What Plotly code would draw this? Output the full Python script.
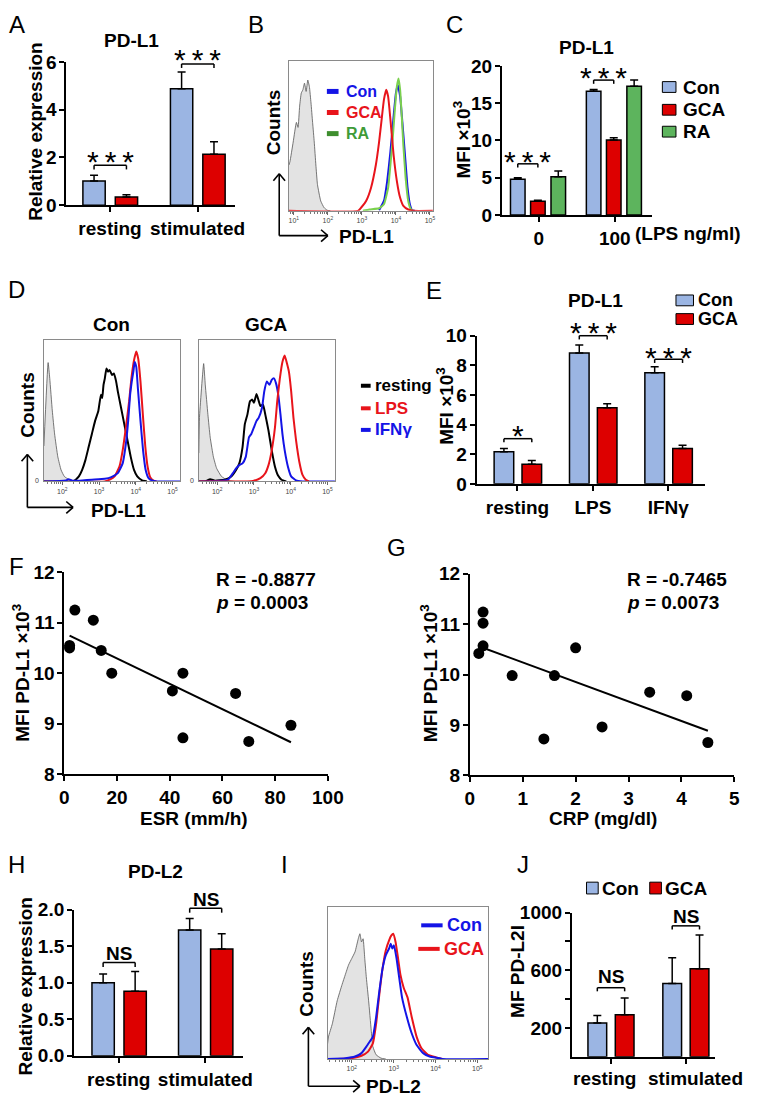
import numpy as np
import plotly.graph_objects as go

# ======================= DATA =======================
# A: PD-L1 relative expression (qPCR)
A_cats = ["resting", "stimulated"]
A_con = [1.02, 4.88]
A_con_err = [0.24, 0.70]
A_gca = [0.34, 2.14]
A_gca_err = [0.10, 0.52]
A_sig = ["***", "***"]

# B: PD-L1 flow histograms (x = log10 fluorescence, y = % of max count)
B_iso_x = [0.857, 0.886, 0.981, 1.076, 1.124, 1.171, 1.219, 1.267, 1.314, 1.362, 1.41, 1.457, 1.505, 1.552, 1.6, 1.648, 1.695, 1.79, 1.886, 1.981, 2.076]
B_iso_y = [30.6, 32.8, 45.9, 59, 55.7, 69.9, 78.6, 80.8, 85.2, 79.7, 87.3, 83, 72, 59, 45.9, 30.6, 17.5, 6.6, 2.2, 0.4, 0]
B_con_x = [3.505, 3.648, 3.743, 3.838, 3.933, 4.0, 4.057, 4.124, 4.19, 4.267, 4.343, 4.41, 4.476, 4.552]
B_con_y = [0.4, 6.6, 19.7, 39.3, 63.3, 78.6, 84, 76.4, 59, 37.1, 15.3, 4.4, 0.4, 0]
B_ra_x = [3.029, 3.219, 3.505, 3.648, 3.771, 3.838, 3.905, 3.962, 4.029, 4.076, 4.124, 4.171, 4.219, 4.286, 4.362, 4.438, 4.505]
B_ra_y = [0, 0.9, 1.7, 4.4, 15.3, 30.6, 48, 65.5, 83, 88.4, 80.8, 63.3, 43.7, 21.8, 6.6, 1.1, 0]
B_gca_x = [0.857, 2.886, 2.981, 3.124, 3.267, 3.41, 3.505, 3.581, 3.648, 3.714, 3.771, 3.838, 3.933, 4.029, 4.124, 4.219, 4.362, 4.505, 5.086]
B_gca_y = [0, 0, 2.2, 6.6, 15.3, 30.6, 45.9, 61.1, 74.2, 80.8, 76.4, 61.1, 37.1, 19.7, 8.7, 3.3, 0.9, 0, 0]
B_names = ["Con", "GCA", "RA"]

# C: PD-L1 MFI (x10^3) vs LPS dose
C_cats = ["0", "100"]
C_con = [4.81, 16.59]
C_con_err = [0.18, 0.26]
C_gca = [1.84, 10.07]
C_gca_err = [0.13, 0.30]
C_ra = [5.12, 17.29]
C_ra_err = [0.78, 0.83]
C_sig = ["***", "***"]

# D: PD-L1 flow histograms, Con and GCA
D_con_iso_x = [1.5, 1.615, 1.659, 1.729, 1.791, 1.879, 1.967, 2.056, 2.188, 2.364]
D_con_iso_y = [25, 83.8, 72.7, 49.7, 33.5, 17.3, 8.1, 3.5, 1.2, 0.2]
D_con_rest_x = [1.5, 2.276, 2.364, 2.452, 2.541, 2.629, 2.717, 2.805, 2.893, 2.981, 3.052, 3.087, 3.122, 3.158, 3.202, 3.246, 3.29, 3.352, 3.405, 3.466, 3.511, 3.599, 3.687, 3.775, 3.863, 3.952, 4.04, 4.172, 4.304]
D_con_rest_y = [0, 0, 1.2, 3.5, 8.1, 15, 24.2, 33.5, 42.7, 49.7, 61.2, 58.9, 68.1, 72.7, 79.7, 77.4, 78.5, 75.1, 76.2, 70.4, 63.5, 52, 40.4, 28.9, 17.3, 8.1, 3.5, 0.7, 0]
D_con_lps_x = [1.5, 3.158, 3.29, 3.423, 3.555, 3.643, 3.731, 3.819, 3.881, 3.952, 4.013, 4.066, 4.128, 4.198, 4.26, 4.322, 4.392, 4.481, 4.569]
D_con_lps_y = [0, 0, 1.2, 3.5, 10.4, 21.9, 38.1, 56.6, 72.7, 85.5, 91.7, 86.6, 70.4, 45, 24.2, 10.4, 3, 0.5, 0]
D_con_ifn_x = [1.5, 2.1, 2.17, 2.276, 2.541, 2.805, 3.158, 3.334, 3.511, 3.643, 3.731, 3.793, 3.846, 3.89, 3.934, 3.969, 4.013, 4.057, 4.128, 4.198, 4.269, 4.348, 4.437, 4.569, 5.204]
D_con_ifn_y = [0, 0.7, 1.6, 0.5, 0.7, 1.2, 1.8, 3, 5.8, 12.7, 26.6, 42.7, 61.2, 70.4, 77.4, 84.3, 80.8, 65.8, 42.7, 21.9, 8.1, 2.3, 0.7, 0, 0]
D_gca_iso_x = [1.5, 1.518, 1.632, 1.676, 1.747, 1.809, 1.897, 1.985, 2.117, 2.294, 2.47]
D_gca_iso_y = [20, 45, 83.1, 68.1, 47.3, 31.2, 17.3, 9.2, 3.5, 0.7, 0]
D_gca_rest_x = [1.5, 1.676, 1.809, 1.941, 2.206, 2.382, 2.514, 2.602, 2.69, 2.752, 2.823, 2.893, 2.955, 2.999, 3.07, 3.131, 3.176, 3.246, 3.308, 3.396, 3.484, 3.572, 3.661, 3.749, 3.881]
D_gca_rest_y = [0, 0, 1.6, 0.5, 1.2, 3.5, 8.1, 12.7, 24.2, 40.4, 47.3, 56.6, 57.7, 55.4, 61.7, 56.6, 53.1, 54.3, 47.3, 35.8, 21.9, 10.4, 3.9, 1.2, 0]
D_gca_ifn_x = [1.5, 2.117, 2.294, 2.426, 2.514, 2.602, 2.69, 2.778, 2.866, 2.929, 2.999, 3.07, 3.131, 3.22, 3.281, 3.352, 3.422, 3.484, 3.546, 3.599, 3.661, 3.722, 3.775, 3.837, 3.925, 4.013, 4.146, 4.322, 5.204]
D_gca_ifn_y = [0, 0.5, 1.2, 5.8, 9.2, 11.5, 12.7, 17.3, 31.2, 33.5, 38.1, 42.7, 45, 52, 63.5, 70.4, 68.1, 71.6, 72.7, 69.3, 61.2, 47.3, 33.5, 21.9, 10.4, 3.5, 0.7, 0, 0]
D_gca_lps_x = [1.5, 2.823, 2.999, 3.176, 3.308, 3.396, 3.484, 3.572, 3.634, 3.705, 3.775, 3.837, 3.899, 3.951, 4.013, 4.075, 4.146, 4.234, 4.322, 4.41, 4.498]
D_gca_lps_y = [0, 0, 0.5, 2.3, 5.8, 11.5, 21.9, 38.1, 56.6, 72.7, 84.3, 88.9, 83.1, 77.4, 63.5, 45, 28.9, 13.9, 4.6, 1.2, 0]
D_names = ["resting", "LPS", "IFNγ"]

# E: PD-L1 MFI (x10^3)
E_cats = ["resting", "LPS", "IFNγ"]
E_con = [2.16, 8.83, 7.50]
E_con_err = [0.22, 0.55, 0.40]
E_gca = [1.32, 5.14, 2.38]
E_gca_err = [0.25, 0.27, 0.22]
E_sig = ["*", "***", "***"]

# F: MFI PD-L1 vs ESR
F_esr = [2, 2, 4, 11, 14, 18, 41, 45, 45, 65, 70, 86]
F_mfi = [10.55, 10.5, 11.25, 11.05, 10.45, 10.0, 9.65, 10.0, 8.72, 9.6, 8.65, 8.97]
F_stats = ["R = -0.8877", "0.0003"]

# G: MFI PD-L1 vs CRP
G_crp = [0.25, 0.25, 0.25, 0.17, 0.8, 1.6, 2.0, 1.4, 2.5, 3.4, 4.1, 4.5]
G_mfi = [11.24, 11.02, 10.57, 10.42, 9.98, 9.98, 10.53, 8.72, 8.96, 9.65, 9.58, 8.65]
G_stats = ["R = -0.7465", "0.0073"]

# H: PD-L2 relative expression
H_cats = ["resting", "stimulated"]
H_con = [1.00, 1.72]
H_con_err = [0.12, 0.16]
H_gca = [0.885, 1.46]
H_gca_err = [0.27, 0.21]
H_sig = ["NS", "NS"]

# I: PD-L2 flow histograms
I_iso_x = [1.42, 1.441, 1.534, 1.65, 1.767, 1.844, 1.922, 2.0, 2.077, 2.154, 2.193, 2.232, 2.27, 2.309, 2.348, 2.402, 2.464, 2.503, 2.581, 2.697, 2.813]
I_iso_y = [10, 14.6, 23.2, 38.3, 49, 55.5, 61.9, 66.2, 70.5, 79.1, 82.4, 77, 79.1, 66.2, 53.3, 38.3, 18.9, 8.2, 2.8, 0.6, 0]
I_con_x = [1.42, 1.844, 2.077, 2.232, 2.348, 2.426, 2.503, 2.581, 2.658, 2.736, 2.813, 2.891, 2.93, 2.968, 3.007, 3.069, 3.123, 3.201, 3.317, 3.433, 3.55, 3.705, 3.86, 4.092, 4.17, 5.256]
I_con_y = [0, 0.6, 1.7, 3.9, 8.2, 11.4, 14.6, 27.5, 44.7, 59.8, 68.4, 72.7, 75.9, 72.7, 74.8, 66.2, 55.5, 40.4, 27.5, 16.8, 9.2, 3.9, 1.7, 0.6, 0, 0]
I_gca_x = [1.42, 2.0, 2.232, 2.387, 2.503, 2.581, 2.658, 2.736, 2.813, 2.891, 2.946, 2.991, 3.046, 3.1, 3.162, 3.24, 3.333, 3.433, 3.55, 3.666, 3.821, 4.015, 4.17]
I_gca_y = [0, 0.6, 2.2, 4.9, 10.3, 23.2, 42.6, 59.8, 71.6, 78.1, 81.3, 82.4, 77, 67.3, 55.5, 46.9, 40.4, 27.5, 14.6, 7.1, 2.8, 1.1, 0]

# J: PD-L2 MFI
J_cats = ["resting", "stimulated"]
J_con = [235, 508]
J_con_err = [52, 179]
J_gca = [292, 610]
J_gca_err = [115, 235]
J_sig = ["NS", "NS"]

# ======================= STYLE / LAYOUT =======================
W, H = 762, 1109
FONT = "Liberation Sans, Arial, Helvetica, sans-serif"
C_BLUE = "#9BB5E3"
C_RED = "#DD0000"
C_GREEN = "#5DB45D"
F_BLUE = "#1414E6"
F_RED = "#E8141B"
F_GREEN = "#7BD04E"
F_GREEN_TXT = "#3F9B38"
STAR_GAP = "\u2009"

fig = go.Figure()
ann, shp = [], []


def fx(x):
    return x / W


def fy(y):
    return 1 - y / H


def text(x, y, s, size=19, bold=True, color="black", angle=0, xanchor="center",
         yanchor="middle", family=FONT):
    t = f"<b>{s}</b>" if bold else s
    ann.append(dict(x=fx(x), y=fy(y), xref="paper", yref="paper", text=t, showarrow=False,
                    font=dict(size=size, color=color, family=family), textangle=angle,
                    xanchor=xanchor, yanchor=yanchor))


def pline(x0, y0, x1, y1, color="black", width=2):
    shp.append(dict(type="line", xref="paper", yref="paper", x0=fx(x0), y0=fy(y0),
                    x1=fx(x1), y1=fy(y1), line=dict(color=color, width=width)))


def prect(x0, y0, x1, y1, fill):
    shp.append(dict(type="rect", xref="paper", yref="paper", x0=fx(x0), y0=fy(y1),
                    x1=fx(x1), y1=fy(y0), fillcolor=fill, line=dict(color="black", width=1)))


def arrow_axes(x0, y0, ytip, xtip):
    pline(x0, y0, x0, ytip, width=1.6)
    pline(x0, ytip, x0 - 6, ytip + 7, width=1.6)
    pline(x0, ytip, x0 + 6, ytip + 7, width=1.6)
    pline(x0, y0, xtip, y0, width=1.6)
    pline(xtip, y0, xtip - 7, y0 - 6, width=1.6)
    pline(xtip, y0, xtip - 7, y0 + 6, width=1.6)


axis_count = [0]


def new_axes(xdom, ydom, xkw, ykw):
    axis_count[0] += 1
    n = axis_count[0]
    s = "" if n == 1 else str(n)
    fig.update_layout(**{
        f"xaxis{s}": dict(domain=[fx(xdom[0]), fx(xdom[1])], anchor=f"y{s}", **xkw),
        f"yaxis{s}": dict(domain=[fy(ydom[1]), fy(ydom[0])], anchor=f"x{s}", **ykw),
    })
    return f"x{s}", f"y{s}"


BOLD_TICK = dict(size=19, family=FONT, color="black", weight="bold")


def bar_panel(cfg, cats, series, sigs, sig_levels, sig_text_y, tick, ytickvals,
              yticktext=None, yminor=None, xlabel_pos=None):
    xdom, xr, ydom, yr = cfg["xdom"], cfg["xr"], cfg["ydom"], cfg["yr"]
    pos = list(range(len(cats)))
    xkw = dict(range=xr, tickvals=pos, ticktext=cats, showline=True, linecolor="black",
               linewidth=2, ticks="outside", ticklen=5, tickwidth=2, tickcolor="black",
               tickfont=BOLD_TICK, tickangle=0, showgrid=False, zeroline=False,
               showticklabels=xlabel_pos is None)
    ykw = dict(range=yr, tickvals=ytickvals, showline=True, linecolor="black", linewidth=2,
               ticks="outside", ticklen=5, tickwidth=2, tickcolor="black", tickfont=BOLD_TICK,
               ticklabelstandoff=-1, showgrid=False, zeroline=False)
    if yticktext is not None:
        ykw["ticktext"] = yticktext
    if yminor is not None:
        ykw["minor"] = dict(tickvals=yminor, ticks="outside", ticklen=5, tickwidth=2,
                            tickcolor="black")
    xa, ya = new_axes(xdom, ydom, xkw, ykw)
    for vals, errs, color, off in series:
        fig.add_trace(go.Bar(x=pos, y=vals, xaxis=xa, yaxis=ya, width=cfg["w"], offset=off,
                             marker=dict(color=color, line=dict(color="black", width=1.5)),
                             error_y=dict(type="data", array=errs, arrayminus=[0] * len(errs),
                                          symmetric=False, color="black", thickness=1.5, width=4),
                             showlegend=False, hoverinfo="skip"))

    def to_px(xv, yv):
        X = xdom[0] + (xv - xr[0]) / (xr[1] - xr[0]) * (xdom[1] - xdom[0])
        Y = ydom[1] - (yv - yr[0]) / (yr[1] - yr[0]) * (ydom[1] - ydom[0])
        return X, Y

    if xlabel_pos is not None:
        for c, (lx, ly) in zip(cats, xlabel_pos):
            text(lx, ly, c)

    off_a, off_b = series[0][3], series[1][3]
    for i, s in enumerate(sigs):
        x0 = i + off_a + cfg["w"] / 2
        x1 = i + off_b + cfg["w"] / 2
        lvl = sig_levels[i]
        (X0, Y0), (X1, Y1) = to_px(x0, lvl), to_px(x1, lvl)
        _, Yt = to_px(x0, lvl - tick)
        pline(X0, Yt, X0, Y0, width=1.5)
        pline(X0, Y0, X1, Y0, width=1.5)
        pline(X1, Y0, X1, Yt, width=1.5)
        Xc, Ys = to_px((x0 + x1) / 2, sig_text_y[i])
        if s == "NS":
            text(Xc, Ys, s, size=19)
        else:
            text(Xc, Ys + 7, STAR_GAP.join(s), size=30, bold=False)
    return xa, ya


def flow_panel(xdom, ydom, xr, curves, tick_pows):
    minor = [float(np.log10(m * 10.0 ** e)) for e in range(0, 6) for m in range(2, 10)]
    minor = [v for v in minor if xr[0] < v < xr[1]]
    xkw = dict(range=xr, tickvals=tick_pows, ticktext=[f"10<sup>{p}</sup>" for p in tick_pows],
               showline=True, mirror=True, linecolor="#8a8a8a", linewidth=1, ticks="outside",
               ticklen=3, tickcolor="#666", tickfont=dict(size=7, family=FONT, color="#444"),
               minor=dict(tickvals=minor, ticks="outside", ticklen=2, tickcolor="#777"),
               tickangle=0, showgrid=False, zeroline=False)
    ykw = dict(range=[0, 100], showline=True, mirror=True, linecolor="#8a8a8a", linewidth=1,
               showticklabels=False, ticks="", showgrid=False, zeroline=False)
    xa, ya = new_axes(xdom, ydom, xkw, ykw)
    for xs, ys, color, width, fill in curves:
        fig.add_trace(go.Scatter(x=xs, y=ys, xaxis=xa, yaxis=ya, mode="lines",
                                 line=dict(color=color, width=width, shape="spline", smoothing=0.4),
                                 fill="tozeroy" if fill else None,
                                 fillcolor="#E3E3E3" if fill else None,
                                 showlegend=False, hoverinfo="skip"))
    return xa, ya


def scatter_panel(xdom, ydom, xr, xticks, xs, ys):
    xkw = dict(range=xr, tickvals=xticks, showline=True, linecolor="black", linewidth=2,
               ticks="outside", ticklen=5, tickwidth=2, tickcolor="black", tickfont=BOLD_TICK,
               tickangle=0, showgrid=False, zeroline=False)
    ykw = dict(range=[8, 12], tickvals=[8, 9, 10, 11, 12], showline=True, linecolor="black",
               linewidth=2, ticks="outside", ticklen=5, tickwidth=2, tickcolor="black",
               tickfont=BOLD_TICK, ticklabelstandoff=-1, showgrid=False, zeroline=False)
    xa, ya = new_axes(xdom, ydom, xkw, ykw)
    slope, icpt = np.polyfit(xs, ys, 1)
    lx = [min(xs), max(xs)]
    fig.add_trace(go.Scatter(x=lx, y=[slope * v + icpt for v in lx], xaxis=xa, yaxis=ya,
                             mode="lines", line=dict(color="black", width=2),
                             showlegend=False, hoverinfo="skip"))
    fig.add_trace(go.Scatter(x=xs, y=ys, xaxis=xa, yaxis=ya, mode="markers",
                             marker=dict(color="black", size=11), showlegend=False,
                             hoverinfo="skip", cliponaxis=False))
    return xa, ya


# ---------------- Panel A ----------------
cfgA = dict(xdom=(63, 237), xr=[-0.5, 1.433], ydom=(53, 199), yr=[0, 6], w=0.255)
bar_panel(cfgA, A_cats, [(A_con, A_con_err, C_BLUE, -0.31), (A_gca, A_gca_err, C_RED, 0.06)],
          A_sig, [1.67, 5.92], [2.1, 6.4], 0.17, [0, 2, 4, 6])
text(130, 31, "PD-L1")
text(32, 124, "Relative expression", angle=-90)
text(12, 15, "A", size=24, bold=False)

# ---------------- Panel B ----------------
flow_panel((292, 440), (52, 204.7), [0.857, 5.086],
           [(B_iso_x, B_iso_y, "#555555", 0.8, True),
            (B_con_x, B_con_y, F_BLUE, 2, False),
            (B_ra_x, B_ra_y, F_GREEN, 2, False),
            (B_gca_x, B_gca_y, F_RED, 2, False)], [1, 2, 3, 4, 5])
for name, yy, col, tcol in zip(B_names, [83, 104.5, 126], [F_BLUE, F_RED, "#3E8E2E"],
                               [F_BLUE, F_RED, F_GREEN_TXT]):
    pline(331, yy, 343, yy, color=col, width=5)
    text(349, yy, name, size=16, color=tcol, xanchor="left")
arrow_axes(282, 230, 167, 332)
text(276, 115, "Counts", angle=-90)
text(372, 231, "PD-L1")
text(258, 15, "B", size=24, bold=False)

# ---------------- Panel C ----------------
cfgC = dict(xdom=(511, 665), xr=[-0.487, 1.487], ydom=(57, 209), yr=[0, 20], w=0.192)
bar_panel(cfgC, C_cats, [(C_con, C_con_err, C_BLUE, -0.374), (C_gca, C_gca_err, C_RED, -0.109),
                         (C_ra, C_ra_err, C_GREEN, 0.16)],
          C_sig, [6.87, 18.1], [8.1, 19.4], 0.5, [0, 5, 10, 15, 20])
text(598, 38, "PD-L1")
text(469, 132, "MFI ×10<sup>3</sup>", angle=-90)
text(702, 228, "(LPS ng/ml)")
for name, yy, col in zip(["Con", "GCA", "RA"], [78.5, 101.7, 124], [C_BLUE, C_RED, C_GREEN]):
    prect(676, yy - 5.5, 690, yy + 5.5, col)
    text(695, yy, name, xanchor="left")
text(462, 15, "C", size=24, bold=False)

# ---------------- Panel D ----------------
for xdom, curves, title in [
    ((40, 180), [(D_con_iso_x, D_con_iso_y, "#555555", 0.8, True),
                 (D_con_rest_x, D_con_rest_y, "black", 2, False),
                 (D_con_lps_x, D_con_lps_y, F_RED, 2, False),
                 (D_con_ifn_x, D_con_ifn_y, F_BLUE, 2, False)], "Con"),
    ((199.3, 339.3), [(D_gca_iso_x, D_gca_iso_y, "#555555", 0.8, True),
                      (D_gca_rest_x, D_gca_rest_y, "black", 2, False),
                      (D_gca_ifn_x, D_gca_ifn_y, F_BLUE, 2, False),
                      (D_gca_lps_x, D_gca_lps_y, F_RED, 2, False)], "GCA")]:
    flow_panel(xdom, (336, 480.5), [1.5, 5.204], curves, [2, 3, 4, 5])
    text((xdom[0] + xdom[1]) / 2, 321, title)
    text(xdom[0] - 7, 480, "0", size=7, bold=False, color="#444")
for name, yy, col in zip(D_names, [383, 406, 428], ["black", F_RED, F_BLUE]):
    pline(366, yy, 376, yy, color=col, width=4)
    text(378, yy, name, size=17, color=col, xanchor="left")
arrow_axes(23, 507, 453, 70)
text(23, 403, "Counts", angle=-90)
text(117, 510, "PD-L1")
text(12, 285, "D", size=24, bold=False)

# ---------------- Panel E ----------------
cfgE = dict(xdom=(485, 720), xr=[-0.542, 2.49], ydom=(332, 483), yr=[0, 10], w=0.26)
bar_panel(cfgE, E_cats, [(E_con, E_con_err, C_BLUE, -0.31), (E_gca, E_gca_err, C_RED, 0.06)],
          E_sig, [3.05, 10.0, 8.41], [3.7, 10.66, 9.0], 0.25, [0, 2, 4, 6, 8, 10])
text(607, 296, "PD-L1")
text(453, 404, "MFI ×10<sup>3</sup>", angle=-90)
for name, yy, col in zip(["Con", "GCA"], [296, 315], [C_BLUE, C_RED]):
    prect(690, yy - 5.5, 708, yy + 5.5, col)
    text(711, yy, name, size=18, xanchor="left")
text(441, 286, "E", size=24, bold=False)

# ---------------- Panel F ----------------
scatter_panel((61, 332), (573, 779), [0, 100], [0, 20, 40, 60, 80, 100], F_esr, F_mfi)
text(215, 580, F_stats[0], xanchor="left")
text(215, 604, f"<i>p</i> = {F_stats[1]}", xanchor="left")
text(194, 824, "ESR (mm/h)")
text(17, 676, "MFI PD-L1 ×10<sup>3</sup>", angle=-90)
text(12, 567, "F", size=24, bold=False)

# ---------------- Panel G ----------------
scatter_panel((478, 750), (574.7, 780), [0, 5], [0, 1, 2, 3, 4, 5], G_crp, G_mfi)
text(638, 580, G_stats[0], xanchor="left")
text(638, 604, f"<i>p</i> = {G_stats[1]}", xanchor="left")
text(615, 824, "CRP (mg/dl)")
text(436, 676, "MFI PD-L1 ×10<sup>3</sup>", angle=-90)
text(403, 548, "G", size=24, bold=False)

# ---------------- Panel H ----------------
cfgH = dict(xdom=(71, 245), xr=[-0.517, 1.438], ydom=(917, 1066), yr=[0, 2], w=0.258)
bar_panel(cfgH, H_cats, [(H_con, H_con_err, C_BLUE, -0.31), (H_gca, H_gca_err, C_RED, 0.06)],
          H_sig, [1.276, 2.018], [1.40, 2.14], 0.06, [0, 0.5, 1, 1.5, 2],
          yticktext=["0.0", "0.5", "1.0", "1.5", "2.0"])
text(155, 878, "PD-L2")
text(21, 995, "Relative expression", angle=-90)
text(12, 871, "H", size=24, bold=False)

# ---------------- Panel I ----------------
flow_panel((331.7, 496.7), (914.3, 1069.3), [1.42, 5.256],
           [(I_iso_x, I_iso_y, "#555555", 0.8, True),
            (I_gca_x, I_gca_y, F_RED, 2, False),
            (I_con_x, I_con_y, F_BLUE, 2, False)], [2, 3, 4, 5])
for name, yy, col, x0 in zip(["Con", "GCA"], [933, 957], [F_BLUE, F_RED], [428, 425]):
    pline(x0, yy, x0 + 22, yy, color=col, width=4)
    text(x0 + 24, yy, name, size=18, color=col, xanchor="left")
arrow_axes(312, 1097, 1037, 365)
text(310, 993, "Counts", angle=-90)
text(400, 1097, "PD-L2")
text(287, 871, "I", size=24, bold=False)

# ---------------- Panel J ----------------
cfgJ = dict(xdom=(583, 730), xr=[-0.519, 1.39], ydom=(920, 1067), yr=[0, 1000], w=0.25)
bar_panel(cfgJ, J_cats, [(J_con, J_con_err, C_BLUE, -0.305), (J_gca, J_gca_err, C_RED, 0.06)],
          J_sig, [479, 908], [558, 976], 25, [200, 600, 1000], yminor=[400, 800],
          xlabel_pos=[(617, 1089), (710, 1089)])
text(527, 980, "MF PD-L2I", angle=-90)
for name, xx, col in zip(["Con", "GCA"], [598, 663], [C_BLUE, C_RED]):
    prect(xx, 889, xx + 12, 901, col)
    text(xx + 14, 895, name, xanchor="left")
text(533, 871, "J", size=24, bold=False)

fig.update_layout(width=W, height=H, margin=dict(l=0, r=0, t=0, b=0, pad=0),
                  paper_bgcolor="white", plot_bgcolor="white", showlegend=False,
                  barmode="overlay", annotations=ann, shapes=shp,
                  font=dict(family=FONT, color="black"))
fig.write_html("out.html", config={"displayModeBar": False},
               post_script="document.body.style.margin='0';document.body.style.overflow='hidden';")
